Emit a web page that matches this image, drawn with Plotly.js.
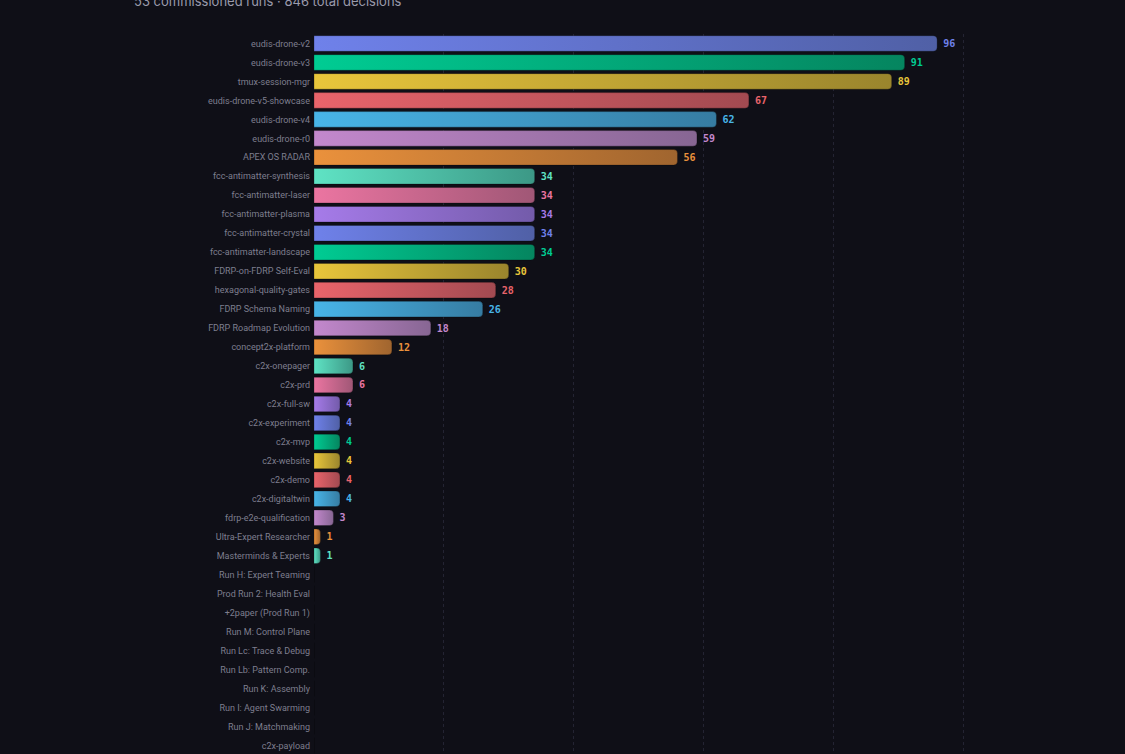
<!DOCTYPE html>
<html>
<head>
<meta charset="utf-8">
<script src="https://cdn.plot.ly/plotly-3.0.1.min.js"></script>
<style>
  html, body { margin: 0; padding: 0; background: #0f0f17; overflow: hidden; }
  #chart { width: 1125px; height: 754px; }
</style>
</head>
<body>
<div id="chart"></div>
<script>
const categories = [
  "eudis-drone-v2", "eudis-drone-v3", "tmux-session-mgr", "eudis-drone-v5-showcase",
  "eudis-drone-v4", "eudis-drone-r0", "APEX OS RADAR", "fcc-antimatter-synthesis",
  "fcc-antimatter-laser", "fcc-antimatter-plasma", "fcc-antimatter-crystal",
  "fcc-antimatter-landscape", "FDRP-on-FDRP Self-Eval", "hexagonal-quality-gates",
  "FDRP Schema Naming", "FDRP Roadmap Evolution", "concept2x-platform", "c2x-onepager",
  "c2x-prd", "c2x-full-sw", "c2x-experiment", "c2x-mvp", "c2x-website", "c2x-demo",
  "c2x-digitaltwin", "fdrp-e2e-qualification", "Ultra-Expert Researcher",
  "Masterminds & Experts", "Run H: Expert Teaming", "Prod Run 2: Health Eval",
  "+2paper (Prod Run 1)", "Run M: Control Plane", "Run Lc: Trace & Debug",
  "Run Lb: Pattern Comp.", "Run K: Assembly", "Run I: Agent Swarming",
  "Run J: Matchmaking", "c2x-payload"
];
const decisions = [
  96, 91, 89, 67, 62, 59, 56, 34, 34, 34, 34, 34, 30, 28, 26, 18, 12, 6, 6,
  4, 4, 4, 4, 4, 4, 3, 1, 1, 0, 0, 0, 0, 0, 0, 0, 0, 0, 0
];
const subtitle = "53 commissioned runs · 846 total decisions";

const paletteBright = ["#6f81ea", "#00cc93", "#e9c63b", "#e9646b", "#48b5e8", "#c388cd", "#ea913c", "#5fe3c4", "#eb75a1", "#a67be9"];
const paletteDark   = ["#5060a6", "#05855f", "#9a852d", "#a24a51", "#367ca2", "#876693", "#a0652f", "#3c9886", "#a05776", "#735baa"];

const barColors = categories.map((c, i) => paletteBright[i % paletteBright.length]);
const labelText = decisions.map(v => v > 0 ? String(v) : "");

const trace = {
  type: "bar",
  orientation: "h",
  y: categories,
  x: decisions,
  text: labelText,
  textposition: "outside",
  cliponaxis: false,
  textfont: { family: "DejaVu Sans Mono, monospace", size: 10, color: barColors, weight: 600 },
  marker: {
    color: barColors,
    cornerradius: 4,
    line: { color: "rgba(0,0,0,0.25)", width: 1 }
  },
  hoverinfo: "none"
};

const layout = {
  width: 1125,
  height: 754,
  paper_bgcolor: "#0f0f17",
  plot_bgcolor: "#0f0f17",
  margin: { l: 314, r: 97, t: 34, b: 0 },
  bargap: 0.18,
  showlegend: false,
  font: { family: "Roboto, sans-serif", color: "#7e7e8e" },
  xaxis: {
    range: [0, 110],
    dtick: 20,
    tick0: 0,
    showgrid: true,
    gridcolor: "#242433",
    griddash: "dot",
    gridwidth: 1,
    zeroline: false,
    showticklabels: false,
    showline: false,
    ticks: ""
  },
  yaxis: {
    type: "category",
    range: [37.45, -0.5],
    showgrid: false,
    zeroline: false,
    showline: false,
    ticks: "",
    ticklabelstandoff: 3,
    tickfont: { family: "Roboto, sans-serif", size: 9, color: "#7e7e8e" }
  },
  annotations: [{
    text: subtitle,
    xref: "paper", yref: "paper",
    x: -0.2545, y: 1,
    xanchor: "left", yanchor: "middle",
    yshift: 33,
    showarrow: false,
    font: { family: "Inter, sans-serif", size: 13, color: "#9a9aab" }
  }]
};

Plotly.newPlot("chart", [trace], layout, { displayModeBar: false, staticPlot: true }).then(gd => {
  const svg = gd.querySelector("svg.main-svg");
  const NS = "http://www.w3.org/2000/svg";
  let defs = svg.querySelector("defs");
  if (!defs) { defs = document.createElementNS(NS, "defs"); svg.insertBefore(defs, svg.firstChild); }
  paletteBright.forEach((c, k) => {
    const g = document.createElementNS(NS, "linearGradient");
    g.setAttribute("id", "barGrad" + k);
    g.setAttribute("x1", "0"); g.setAttribute("y1", "0");
    g.setAttribute("x2", "1"); g.setAttribute("y2", "0");
    const s1 = document.createElementNS(NS, "stop");
    s1.setAttribute("offset", "0"); s1.setAttribute("stop-color", c);
    const s2 = document.createElementNS(NS, "stop");
    s2.setAttribute("offset", "1"); s2.setAttribute("stop-color", paletteDark[k]);
    g.appendChild(s1); g.appendChild(s2);
    defs.appendChild(g);
  });
  gd.querySelectorAll(".trace.bars .point path").forEach((p, i) => {
    p.style.fill = "url(#barGrad" + (i % paletteBright.length) + ")";
  });
  gd.querySelectorAll(".trace.bars .point text").forEach(t => {
    t.setAttribute("dx", "3");
  });
});
</script>
</body>
</html>
